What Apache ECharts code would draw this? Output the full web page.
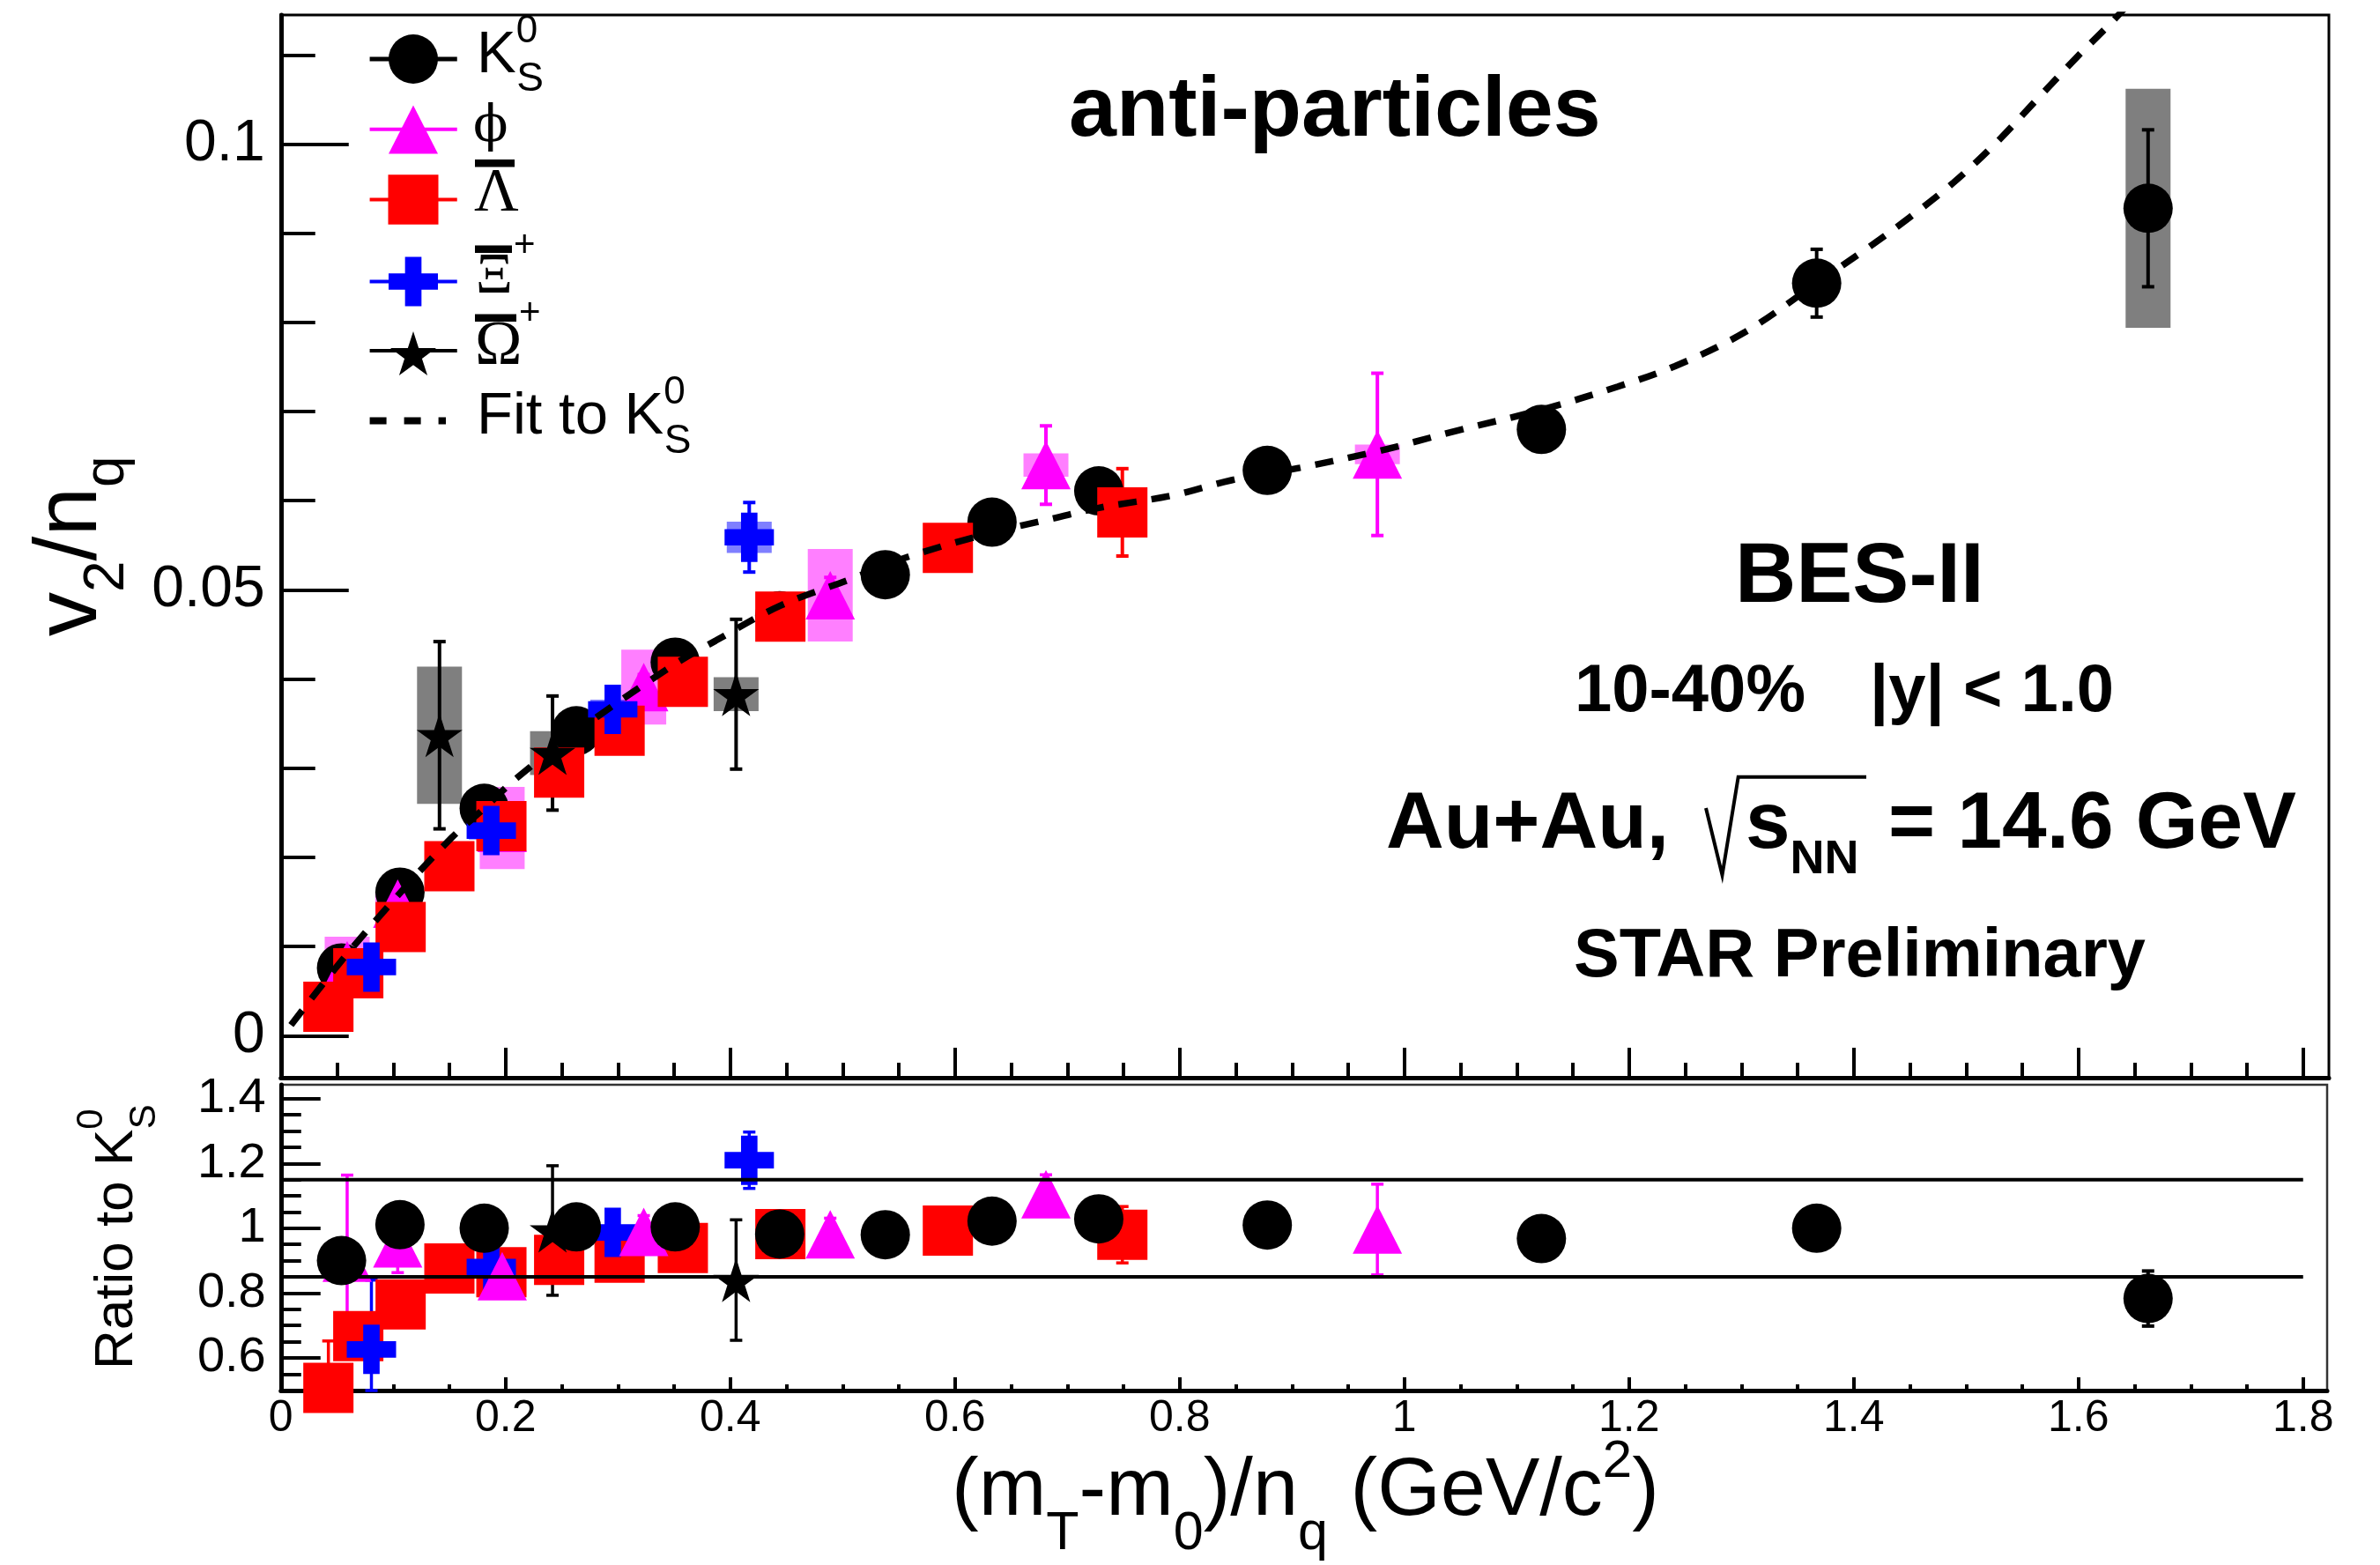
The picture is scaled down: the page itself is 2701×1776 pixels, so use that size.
<!DOCTYPE html>
<html>
<head>
<meta charset="utf-8">
<title>v2/nq vs (mT-m0)/nq, anti-particles</title>
<script src="https://cdn.jsdelivr.net/npm/echarts@6.0.0/dist/echarts.min.js"></script>
<style>
html,body{margin:0;padding:0;background:#fff;}
#chart{width:2701px;height:1776px;}
</style>
</head>
<body>
<div id="chart"></div>
<script>
// ===================== DATA =====================
// K0S
const kX      = [0.054, 0.106, 0.181, 0.263, 0.351, 0.444, 0.538, 0.633, 0.728, 0.878, 1.122, 1.367, 1.662];
const kY      = [0.0076, 0.0161, 0.0255, 0.0342, 0.0419, 0.0471, 0.0517, 0.0576, 0.0611, 0.0634, 0.0680, 0.0844, 0.0928];
const kStat   = [0.0004, 0.0004, 0.0005, 0.0005, 0.0006, 0.0006, 0.0007, 0.0008, 0.0010, 0.0012, 0.0020, 0.0038, 0.0088];
const kSys    = [0, 0, 0, 0, 0, 0, 0, 0, 0, 0, 0, 0, 0.0134];
const kRatio  = [0.900, 1.011, 1.000, 1.004, 1.004, 0.982, 0.980, 1.022, 1.029, 1.010, 0.968, 1.000, 0.783];
const kRatioE = [0.02, 0.02, 0.02, 0.02, 0.02, 0.02, 0.02, 0.02, 0.02, 0.02, 0.03, 0.04, 0.085];
// anti-phi
const phiX      = [0.059, 0.104, 0.197, 0.323, 0.489, 0.681, 0.976];
const phiY      = [0.0079, 0.0148, 0.0233, 0.0391, 0.0494, 0.0640, 0.0652];
const phiStat   = [0.0008, 0.0010, 0.0012, 0.0014, 0.0020, 0.0044, 0.0091];
const phiSys    = [0.0032, 0.0012, 0.0046, 0.0042, 0.0052, 0.0013, 0.0011];
const phiRatio  = [0.909, 0.953, 0.852, 0.989, 0.981, 1.105, 0.996];
const phiRatioE = [0.255, 0.090, 0.050, 0.050, 0.050, 0.060, 0.140];
// anti-Lambda
const lamX      = [0.0423, 0.0689, 0.1066, 0.150, 0.1963, 0.2477, 0.3015, 0.3578, 0.4446, 0.5937, 0.749];
const lamY      = [0.00325, 0.0070, 0.0122, 0.0190, 0.0235, 0.0295, 0.0342, 0.0397, 0.0470, 0.0547, 0.0587];
const lamStat   = [0.0003, 0.0004, 0.0005, 0.0006, 0.0007, 0.0008, 0.0009, 0.0011, 0.0013, 0.0018, 0.0049];
const lamRatio  = [0.507, 0.667, 0.765, 0.876, 0.864, 0.902, 0.909, 0.939, 0.982, 0.993, 0.980];
const lamRatioE = [0.145, 0.06, 0.05, 0.04, 0.04, 0.04, 0.04, 0.04, 0.04, 0.05, 0.087];
// anti-Xi+
const xiX      = [0.0806, 0.1873, 0.2954, 0.4169];
const xiY      = [0.0077, 0.0230, 0.0366, 0.0559];
const xiStat   = [0.0006, 0.0009, 0.0012, 0.0039];
const xiSys    = [0.0008, 0.0010, 0.0011, 0.00175];
const xiRatio  = [0.626, 0.880, 0.987, 1.210];
const xiRatioE = [0.214, 0.06, 0.05, 0.087];
// anti-Omega+
const omX      = [0.1412, 0.2418, 0.4052];
const omY      = [0.0337, 0.0317, 0.0383];
const omStat   = [0.0105, 0.0064, 0.0084];
const omSys    = [0.0077, 0.00245, 0.0019];
const omRatio  = [null, 0.993, 0.840];
const omRatioE = [null, 0.200, 0.186];
// Fit to K0S
const fitX = [0.009, 0.054, 0.106, 0.152, 0.181, 0.21, 0.263, 0.351, 0.387, 0.444, 0.509, 0.558, 0.632, 0.687, 0.728, 0.794, 0.846, 0.907, 0.978, 1.048, 1.122, 1.19, 1.241, 1.303, 1.367, 1.413, 1.45, 1.489, 1.528, 1.563, 1.599, 1.638, 1.662];
const fitY = [0.0012, 0.0084, 0.0160, 0.0222, 0.0255, 0.0289, 0.0341, 0.0417, 0.0443, 0.0482, 0.0513, 0.0537, 0.0564, 0.0580, 0.0592, 0.0606, 0.0623, 0.0637, 0.0656, 0.0679, 0.0702, 0.0728, 0.0751, 0.0789, 0.0844, 0.0884, 0.0918, 0.0957, 0.1003, 0.1050, 0.1098, 0.1148, 0.1186];
// Ratio reference band lines
const bandX = [0, 1.8];
const bandY = [1.15, 0.85];
// Ticks and tick labels
const xMajor = [0, 0.2, 0.4, 0.6, 0.8, 1.0, 1.2, 1.4, 1.6, 1.8];
const xTickLabels = ['0', '0.2', '0.4', '0.6', '0.8', '1', '1.2', '1.4', '1.6', '1.8'];
const xMinor = [0.05, 0.1, 0.15, 0.25, 0.3, 0.35, 0.45, 0.5, 0.55, 0.65, 0.7, 0.75, 0.85, 0.9, 0.95, 1.05, 1.1, 1.15, 1.25, 1.3, 1.35, 1.45, 1.5, 1.55, 1.65, 1.7, 1.75];
const yTopMajor = [0, 0.05, 0.1];
const yTopLabels = ['0', '0.05', '0.1'];
const yTopMinor = [0.01, 0.02, 0.03, 0.04, 0.06, 0.07, 0.08, 0.09, 0.11];
const yBotMajor = [0.6, 0.8, 1.0, 1.2, 1.4];
const yBotLabels = ['0.6', '0.8', '1', '1.2', '1.4'];
const yBotMinor = [0.55, 0.65, 0.7, 0.75, 0.85, 0.9, 0.95, 1.05, 1.1, 1.15, 1.25, 1.3, 1.35];

// ===================== LAYOUT / STYLE =====================
const FONT = '"Liberation Sans", Arial, Helvetica, sans-serif';
const SERIF = '"Liberation Serif", "Times New Roman", "DejaVu Serif", serif';
const L = 318.75, TT = 17, TB = 1223, TR = 2643, BT = 1231, BB = 1578, BR = 2641;
const PXX = 1275;
const X_MAX_TOP = (TR - L) / PXX, X_MAX_BOT = (BR - L) / PXX;
const Y_TOP_MIN = -0.00471, Y_TOP_MAX = 0.11448, Y_BOT_MIN = 0.499, Y_BOT_MAX = 1.443;
const BOX_HW = 0.02;

const C_K = '#000000', C_PHI = '#ff00ff', C_LAM = '#ff0000', C_XI = '#0000ff', C_OM = '#000000';
const CROSS = 'path://M1,0H2V1H3V2H2V3H1V2H0V1H1Z';
const STAR = 'path://M100,0L122.5,69.1L195.1,69.1L136.3,111.8L158.8,180.9L100,138.2L41.2,180.9L63.7,111.8L4.9,69.1L77.5,69.1Z';
const SYM = {
  k:   ['circle', 56],
  phi: ['triangle', [56, 55]],
  lam: ['rect', 57],
  xi:  [CROSS, 56],
  om:  [STAR, [52, 50]]
};

function lbl(majors, labels) {
  return function (v) {
    const i = majors.findIndex(t => Math.abs(t - v) < 1e-7);
    return i >= 0 ? labels[i] : '';
  };
}
function base(grid, min, max, pos) {
  return { type: 'value', gridIndex: grid, min: min, max: max, position: pos, offset: 0,
           splitLine: { show: false }, axisPointer: { show: false } };
}
function tick(len, values, w) {
  return { show: true, inside: true, length: len, customValues: values, lineStyle: { color: '#000', width: w || 4 } };
}
const axisLineOn = { show: true, onZero: false, lineStyle: { color: '#000', width: 5 } };
const axisLineOff = { show: false, onZero: false };

const xAxis = [
  Object.assign(base(0, 0, X_MAX_TOP, 'bottom'), { axisLine: axisLineOn, axisTick: tick(34, xMajor), axisLabel: { show: false } }),
  Object.assign(base(0, 0, X_MAX_TOP, 'bottom'), { axisLine: axisLineOff, axisTick: tick(17, xMinor), axisLabel: { show: false } }),
  Object.assign(base(1, 0, X_MAX_BOT, 'bottom'), { axisLine: axisLineOn, axisTick: tick(15, xMajor),
    axisLabel: { show: true, customValues: xMajor, formatter: lbl(xMajor, xTickLabels), fontSize: 50, fontFamily: FONT, color: '#000', margin: 7 } }),
  Object.assign(base(1, 0, X_MAX_BOT, 'bottom'), { axisLine: axisLineOff, axisTick: tick(7, xMinor), axisLabel: { show: false } })
];
const yAxis = [
  Object.assign(base(0, Y_TOP_MIN, Y_TOP_MAX, 'left'), { axisLine: axisLineOn, axisTick: tick(77, yTopMajor),
    axisLabel: { show: true, customValues: yTopMajor, formatter: lbl(yTopMajor, yTopLabels), fontSize: 66, fontFamily: FONT, color: '#000', margin: 18 } }),
  Object.assign(base(0, Y_TOP_MIN, Y_TOP_MAX, 'left'), { axisLine: axisLineOff, axisTick: tick(39, yTopMinor), axisLabel: { show: false } }),
  Object.assign(base(1, Y_BOT_MIN, Y_BOT_MAX, 'left'), { axisLine: axisLineOn, axisTick: tick(45, yBotMajor),
    axisLabel: { show: true, customValues: yBotMajor, formatter: lbl(yBotMajor, yBotLabels), fontSize: 56, fontFamily: FONT, color: '#000', margin: 17 } }),
  Object.assign(base(1, Y_BOT_MIN, Y_BOT_MAX, 'left'), { axisLine: axisLineOff, axisTick: tick(23, yBotMinor), axisLabel: { show: false } })
];

// ===================== SERIES BUILDERS =====================
function pts(xs, ys, es) {
  const out = [];
  xs.forEach(function (x, i) {
    if (ys[i] == null) return;
    out.push(es ? [x, ys[i], es[i]] : [x, ys[i]]);
  });
  return out;
}
function scatter(name, xs, ys, key, color, xi, yi) {
  return { name: name, type: 'scatter', xAxisIndex: xi, yAxisIndex: yi,
    symbol: SYM[key][0], symbolSize: SYM[key][1], clip: false, silent: true, animation: false,
    emphasis: { disabled: true }, itemStyle: { color: color, opacity: 1, borderWidth: 0 },
    data: pts(xs, ys) };
}
function errBars(name, xs, ys, es, color, xi, yi, yMin, yMax, lw, cap) {
  return { name: name, type: 'custom', xAxisIndex: xi, yAxisIndex: yi, silent: true, animation: false,
    data: pts(xs, ys, es).filter(d => d[2] > 0),
    renderItem: function (params, api) {
      const x = api.value(0), y = api.value(1), e = api.value(2);
      const lo = Math.max(y - e, yMin), hi = Math.min(y + e, yMax);
      const a = api.coord([x, hi]), b = api.coord([x, lo]);
      const st = { stroke: color, lineWidth: lw };
      return { type: 'group', children: [
        { type: 'line', shape: { x1: a[0], y1: a[1], x2: b[0], y2: b[1] }, style: st },
        { type: 'line', shape: { x1: a[0] - cap, y1: a[1], x2: a[0] + cap, y2: a[1] }, style: st },
        { type: 'line', shape: { x1: b[0] - cap, y1: b[1], x2: b[0] + cap, y2: b[1] }, style: st }
      ] };
    } };
}
function sysBoxes(name, xs, ys, ss, fill, xi, yi) {
  return { name: name, type: 'custom', xAxisIndex: xi, yAxisIndex: yi, silent: true, animation: false,
    data: pts(xs, ys, ss).filter(d => d[2] > 0),
    renderItem: function (params, api) {
      const x = api.value(0), y = api.value(1), s = api.value(2);
      const p1 = api.coord([x - BOX_HW, y + s]), p2 = api.coord([x + BOX_HW, y - s]);
      return { type: 'rect', shape: { x: p1[0], y: p1[1], width: p2[0] - p1[0], height: p2[1] - p1[1] }, style: { fill: fill } };
    } };
}

const series = [
  // ---- top panel ----
  { name: 'Fit to K0S', type: 'line', xAxisIndex: 0, yAxisIndex: 0, data: pts(fitX, fitY), smooth: 0.35,
    symbol: 'none', showSymbol: false, clip: true, silent: true, animation: false,
    lineStyle: { color: '#000', width: 7.5, type: [21, 17] } },
  sysBoxes('K0S sys', kX, kY, kSys, 'rgba(0,0,0,0.5)', 0, 0),
  errBars('K0S err', kX, kY, kStat, C_K, 0, 0, Y_TOP_MIN, Y_TOP_MAX, 4, 7),
  scatter('K0S', kX, kY, 'k', C_K, 0, 0),
  sysBoxes('phi sys', phiX, phiY, phiSys, 'rgba(255,0,255,0.5)', 0, 0),
  errBars('phi err', phiX, phiY, phiStat, C_PHI, 0, 0, Y_TOP_MIN, Y_TOP_MAX, 4, 7),
  scatter('phi', phiX, phiY, 'phi', C_PHI, 0, 0),
  errBars('Lambda err', lamX, lamY, lamStat, C_LAM, 0, 0, Y_TOP_MIN, Y_TOP_MAX, 4, 7),
  scatter('Lambda', lamX, lamY, 'lam', C_LAM, 0, 0),
  sysBoxes('Xi sys', xiX, xiY, xiSys, 'rgba(0,0,255,0.5)', 0, 0),
  errBars('Xi err', xiX, xiY, xiStat, C_XI, 0, 0, Y_TOP_MIN, Y_TOP_MAX, 4, 7),
  scatter('Xi', xiX, xiY, 'xi', C_XI, 0, 0),
  sysBoxes('Omega sys', omX, omY, omSys, 'rgba(0,0,0,0.5)', 0, 0),
  errBars('Omega err', omX, omY, omStat, C_OM, 0, 0, Y_TOP_MIN, Y_TOP_MAX, 4, 7),
  scatter('Omega', omX, omY, 'om', C_OM, 0, 0),
  // ---- ratio panel ----
  { name: 'band hi', type: 'line', xAxisIndex: 2, yAxisIndex: 2, data: [[bandX[0], bandY[0]], [bandX[1], bandY[0]]],
    symbol: 'none', silent: true, animation: false, lineStyle: { color: '#000', width: 4 } },
  { name: 'band lo', type: 'line', xAxisIndex: 2, yAxisIndex: 2, data: [[bandX[0], bandY[1]], [bandX[1], bandY[1]]],
    symbol: 'none', silent: true, animation: false, lineStyle: { color: '#000', width: 4 } },
  errBars('Lambda ratio err', lamX, lamRatio, lamRatioE, C_LAM, 2, 2, Y_BOT_MIN, Y_BOT_MAX, 3.5, 7),
  scatter('Lambda ratio', lamX, lamRatio, 'lam', C_LAM, 2, 2),
  errBars('Xi ratio err', xiX, xiRatio, xiRatioE, C_XI, 2, 2, Y_BOT_MIN, Y_BOT_MAX, 3.5, 7),
  scatter('Xi ratio', xiX, xiRatio, 'xi', C_XI, 2, 2),
  errBars('Omega ratio err', omX, omRatio, omRatioE, C_OM, 2, 2, Y_BOT_MIN, Y_BOT_MAX, 3.5, 7),
  scatter('Omega ratio', omX, omRatio, 'om', C_OM, 2, 2),
  errBars('phi ratio err', phiX, phiRatio, phiRatioE, C_PHI, 2, 2, Y_BOT_MIN, Y_BOT_MAX, 3.5, 7),
  scatter('phi ratio', phiX, phiRatio, 'phi', C_PHI, 2, 2),
  errBars('K0S ratio err', kX, kRatio, kRatioE, C_K, 2, 2, Y_BOT_MIN, Y_BOT_MAX, 4, 7),
  scatter('K0S ratio', kX, kRatio, 'k', C_K, 2, 2)
];

// ===================== TEXT HELPERS =====================
const MID = 0.31; // canvas 'middle' baseline offset (em) for Liberation fonts
function rt(o) {
  const F = o.F, fam = o.fam || FONT, wt = o.wt || 'normal';
  const fs = o.fs || Math.round(F * 0.66), ds = (o.ds != null) ? o.ds : F * 0.3;
  const fp = o.fp || Math.round(F * 0.66), up = (o.up != null) ? o.up : F * 0.45;
  const hs = 2 * (F - MID * F - ds + MID * fs);
  const hp = 2 * (F + MID * F - up - MID * fp);
  const com = { fontFamily: fam, fill: '#000', color: '#000' };
  const rich = {
    n: Object.assign({}, com, { fontSize: F, fontWeight: wt, lineHeight: 2 * F, verticalAlign: 'middle' }),
    b: Object.assign({}, com, { fontSize: fs, fontWeight: o.subWt || wt, height: hs, lineHeight: hs, verticalAlign: 'bottom' }),
    p: Object.assign({}, com, { fontSize: fp, fontWeight: o.supWt || wt, height: hp, lineHeight: hp, verticalAlign: 'top' }),
    z: Object.assign({}, com, { fontSize: fp, fontWeight: o.supWt || wt, height: hp, lineHeight: hp, verticalAlign: 'top', width: 0.5 })
  };
  const text = o.parts.map(function (p) { return '{' + p[1] + '|' + p[0] + '}'; }).join('');
  const top = o.base - F - MID * F;
  const el = { type: 'text', z: 60, silent: true,
    style: { text: text, rich: rich, x: 0, y: 0, fill: '#000', fontSize: F, fontFamily: fam, fontWeight: wt,
             align: 'left', verticalAlign: 'top', textAlign: 'left', textVerticalAlign: 'top' } };
  if (o.rot) { el.x = top; el.y = o.at; el.rotation = Math.PI / 2; }
  else { el.x = o.at; el.y = top; }
  return el;
}

// ===================== LEGEND + ANNOTATIONS (graphic) =====================
const LX = 469, LL = 419.6, LR = 518.75;
function crossPts(cx, cy, s) {
  const t = s / 3;
  return [[cx - t, cy - s], [cx + t, cy - s], [cx + t, cy - t], [cx + s, cy - t], [cx + s, cy + t], [cx + t, cy + t],
          [cx + t, cy + s], [cx - t, cy + s], [cx - t, cy + t], [cx - s, cy + t], [cx - s, cy - t], [cx - t, cy - t]];
}
function starPts(cx, cy, w, h) {
  const raw = [[100, 0], [122.5, 69.1], [195.1, 69.1], [136.3, 111.8], [158.8, 180.9], [100, 138.2], [41.2, 180.9], [63.7, 111.8], [4.9, 69.1], [77.5, 69.1]];
  return raw.map(function (p) { return [cx - w / 2 + (p[0] - 4.9) / 190.2 * w, cy - h / 2 + p[1] / 180.9 * h]; });
}
function hline(y, color, w, dash, x1, x2) {
  return { type: 'line', z: 55, silent: true, shape: { x1: x1 || LL, y1: y, x2: x2 || LR, y2: y },
           style: { stroke: color, lineWidth: w, lineDash: dash || null } };
}
const g = [];
// K0S
g.push(hline(67, C_K, 5));
g.push({ type: 'circle', z: 56, silent: true, shape: { cx: LX, cy: 67, r: 28 }, style: { fill: C_K } });
g.push(rt({ at: 541, base: 84.6, F: 67, fs: 46, ds: 20, fp: 44, up: 35, parts: [['K', 'n'], ['0', 'z'], ['S', 'b']] }));
// phi
g.push(hline(146.7, C_PHI, 4));
g.push({ type: 'polygon', z: 56, silent: true, shape: { points: [[LX - 28, 174.5], [LX + 28, 174.5], [LX, 119.5]] }, style: { fill: C_PHI } });
g.push(rt({ at: 537, base: 163, F: 58, fam: '"DejaVu Serif", serif', parts: [['\u03d5', 'n']] }));
// Lambda-bar
g.push(hline(226.5, C_LAM, 4));
g.push({ type: 'rect', z: 56, silent: true, shape: { x: LX - 28.5, y: 198.3, width: 57, height: 56.5 }, style: { fill: C_LAM } });
g.push({ type: 'rect', z: 56, silent: true, shape: { x: 539, y: 181, width: 45, height: 8.5 }, style: { fill: '#000' } });
g.push(rt({ at: 538, base: 242, F: 70, fam: SERIF, parts: [['\u039b', 'n']] }));
// Xi-bar +
g.push(hline(319.5, C_XI, 4));
g.push({ type: 'polygon', z: 56, silent: true, shape: { points: crossPts(LX, 319.5, 28) }, style: { fill: C_XI } });
g.push({ type: 'rect', z: 56, silent: true, shape: { x: 539, y: 278.6, width: 42, height: 8.5 }, style: { fill: '#000' } });
g.push(rt({ at: 540, base: 335, F: 65, fam: SERIF, parts: [['\u039e', 'n']] }));
g.push(rt({ at: 583, base: 292, F: 42, parts: [['+', 'n']] }));
// Omega-bar +
g.push(hline(398, C_OM, 4));
g.push({ type: 'polygon', z: 56, silent: true, shape: { points: starPts(LX, 401, 52, 50) }, style: { fill: C_OM } });
g.push({ type: 'rect', z: 56, silent: true, shape: { x: 539, y: 356.5, width: 47, height: 8.5 }, style: { fill: '#000' } });
g.push(rt({ at: 539, base: 416, F: 72, fam: SERIF, parts: [['\u03a9', 'n']] }));
g.push(rt({ at: 589, base: 369.5, F: 42, parts: [['+', 'n']] }));
// Fit
g.push(hline(477.6, '#000', 8, [19, 20], 419.6, 506));
g.push(rt({ at: 541, base: 494, F: 67, fs: 46, ds: 22, fp: 44, up: 35, parts: [['Fit to K', 'n'], ['0', 'z'], ['S', 'b']] }));

// Annotations
g.push(rt({ at: 1213, base: 157, F: 97, wt: 'bold', parts: [['anti-particles', 'n']] }));
g.push(rt({ at: 1969, base: 686, F: 96, wt: 'bold', parts: [['BES-II', 'n']] }));
g.push(rt({ at: 1787, base: 810, F: 76, wt: 'bold', parts: [['10-40%', 'n']] }));
g.push(rt({ at: 2122, base: 810, F: 76, wt: 'bold', parts: [['|y| < 1.0', 'n']] }));
g.push(rt({ at: 1573, base: 965, F: 91, wt: 'bold', parts: [['Au+Au,', 'n']] }));
g.push({ type: 'polyline', z: 60, silent: true, shape: { points: [[1936, 917], [1954.5, 993], [1972.7, 881.7], [2118, 881.7]] },
         style: { stroke: '#000', lineWidth: 4, fill: null } });
g.push(rt({ at: 1981, base: 965, F: 91, wt: 'bold', fs: 54, ds: 28, parts: [['s', 'n'], ['NN', 'b']] }));
g.push(rt({ at: 2143, base: 965, F: 91, wt: 'bold', parts: [['= 14.6 GeV', 'n']] }));
g.push(rt({ at: 1786, base: 1111, F: 77.5, wt: 'bold', parts: [['STAR Preliminary', 'n']] }));

// Axis titles
g.push(rt({ rot: true, at: 722, base: 112, F: 100, fs: 64, ds: 30, parts: [['v', 'n'], ['2', 'b'], ['/n', 'n'], ['q', 'b']] }));
g.push(rt({ rot: true, at: 1554, base: 152, F: 62, fs: 42, ds: 25, fp: 42, up: 35, parts: [['Ratio to K', 'n'], ['0', 'z'], ['S', 'b']] }));
g.push(rt({ at: 1080, base: 1722, F: 92, fs: 61, ds: 38, fp: 60, up: 44,
            parts: [['(m', 'n'], ['T', 'b'], ['-m', 'n'], ['0', 'b'], [')/n', 'n'], ['q', 'b'], [' (GeV/c', 'n'], ['2', 'p'], [')', 'n']] }));

// ===================== CHART =====================
const chart = echarts.init(document.getElementById('chart'), null, { renderer: 'canvas', width: 2701, height: 1776 });
chart.setOption({
  backgroundColor: '#ffffff',
  animation: false,
  textStyle: { fontFamily: FONT },
  grid: [
    { left: L, top: TT, width: TR - L, height: TB - TT, show: true, borderColor: '#000', borderWidth: 3, backgroundColor: 'transparent', containLabel: false },
    { left: L, top: BT, width: BR - L, height: BB - BT, show: true, borderColor: '#333', borderWidth: 2.5, backgroundColor: 'transparent', containLabel: false }
  ],
  xAxis: xAxis,
  yAxis: yAxis,
  series: series,
  graphic: { elements: g }
});
</script>
</body>
</html>
